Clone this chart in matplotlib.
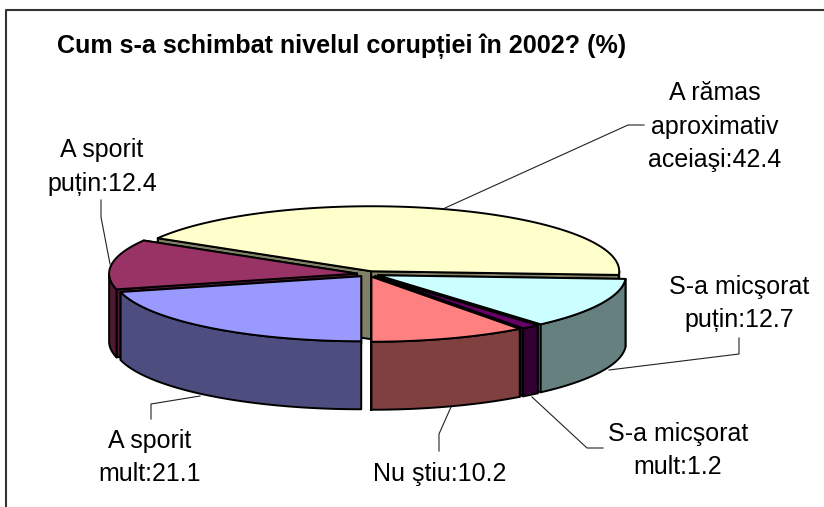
import numpy as np
import matplotlib
matplotlib.use("Agg")
import matplotlib.pyplot as plt
from matplotlib.patches import Polygon

plt.rcParams['font.family'] = ['Liberation Sans', 'DejaVu Sans']

title = "Cum s-a schimbat nivelul corupției în 2002? (%)"
categories = ["A rămas\naproximativ\naceiaşi", "S-a micşorat\npuțin", "S-a micşorat\nmult",
              "Nu ştiu", "A sporit\nmult", "A sporit\npuțin"]
values = [42.4, 12.7, 1.2, 10.2, 21.1, 12.4]
top_colors = ["#FFFFCC", "#CCFFFF", "#660066", "#FF8080", "#9999FF", "#993366"]
side_colors = ["#808066", "#668080", "#330033", "#804040", "#4D4D80", "#4D1933"]
# label centre x and baseline y of the last line
label_pos = [(715, 167), (739, 327), (678, 474), (440, 481), (150, 481), (102, 190.5)]
leader_pts = [[(644, 125), (628, 125), (445, 208)],
              [(739, 338), (739, 354), (609, 370)],
              [(603, 448), (587, 448), (532, 397)],
              [(439, 451), (439, 434), (451, 407)],
              [(151, 419), (151, 404), (200, 396)],
              [(101, 200), (101, 217), (110, 264)]]

W, H = 824, 507
CX, CY, A, B, DEPTH, EXPLODE = 368.0, 274.0, 248.0, 65.0, 68.0, 11.0
START = 149.4
DRAW_ORDER = [0, 1, 2, 3, 5, 4]

fig = plt.figure(figsize=(W / 100, H / 100), dpi=100)
ax = fig.add_axes([0, 0, 1, 1])
ax.set_xlim(0, W)
ax.set_ylim(H, 0)
ax.axis('off')

# spans of each slice, clockwise from START
total = sum(values)
ends = START - np.cumsum(values) / total * 360.0
starts = np.r_[START, ends[:-1]]


def rim(cx, cy, t0, t1, n=80):
    t = np.radians(np.linspace(t0, t1, n))
    return np.c_[cx + A * np.cos(t), cy - B * np.sin(t)]


def face(points, color, z):
    ax.add_patch(Polygon(points, closed=True, facecolor=color, edgecolor='black',
                         linewidth=1.4, joinstyle='round', zorder=z))


for z, i in enumerate(DRAW_ORDER):
    t0, t1 = starts[i], ends[i]
    mid = np.radians((t0 + t1) / 2)
    cx = CX + EXPLODE * np.cos(mid)
    cy = CY - EXPLODE * B / A * np.sin(mid)
    down = np.array([0, DEPTH])
    apex = np.array([cx, cy])
    edge = rim(cx, cy, t0, t1)
    # cut faces
    for p in (edge[0], edge[-1]):
        face([apex, p, p + down, apex + down], side_colors[i], z * 3 + 1)
    # outer wall: the part of the rim facing the viewer (below the horizontal)
    if t0 > -180 and t1 < 0:
        wall = rim(cx, cy, min(t0, 0.0), max(t1, -180.0))
        face(np.r_[wall, (wall + down)[::-1]], side_colors[i], z * 3 + 2)
    face(np.r_[[apex], edge], top_colors[i], z * 3 + 3)

# frame: top and left only
ax.plot([6.5, 6.5, W], [H, 10, 10], color='#333333', lw=1.5, zorder=0)

ax.text(57, 53, title, fontsize=18.05, fontweight='bold', ha='left', va='baseline', color='black')

for name, val, (x, y), pts in zip(categories, values, label_pos, leader_pts):
    ax.text(x, y, f"{name}:{val}", fontsize=18, ha='center', va='baseline', multialignment='center',
            linespacing=1.49, color='black', zorder=50)
    xs, ys = zip(*pts)
    ax.plot(xs, ys, color='#222222', lw=0.8, zorder=0)

fig.savefig("out.png", dpi=100)
